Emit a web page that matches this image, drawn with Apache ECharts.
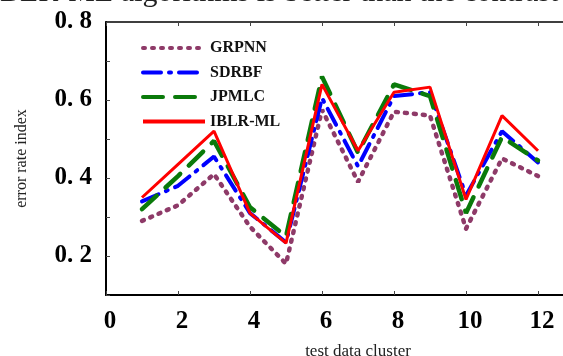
<!DOCTYPE html>
<html>
<head>
<meta charset="utf-8">
<script src="https://cdn.jsdelivr.net/npm/echarts@6/dist/echarts.min.js"></script>
<style>
  html, body { margin: 0; padding: 0; background: #fff; }
  #chart { width: 563px; height: 356px; }
</style>
</head>
<body>
<div id="chart"></div>
<script>
// test data clusters 1..12
const clusters = [1, 2, 3, 4, 5, 6, 7, 8, 9, 10, 11, 12];
const grpnn = [0.29, 0.33, 0.41, 0.275, 0.18, 0.575, 0.39, 0.57, 0.56, 0.27, 0.45, 0.405];
const sdrbf = [0.34, 0.38, 0.455, 0.31, 0.235, 0.605, 0.43, 0.61, 0.62, 0.355, 0.52, 0.44];
const jpmlc = [0.32, 0.405, 0.495, 0.325, 0.25, 0.66, 0.465, 0.64, 0.61, 0.31, 0.505, 0.445];
const iblrml = [0.35, 0.435, 0.52, 0.31, 0.233, 0.64, 0.47, 0.62, 0.633, 0.345, 0.56, 0.47];
const seriesNames = ["GRPNN", "SDRBF", "JPMLC", "IBLR-ML"];

const serif = '"Liberation Serif", "DejaVu Serif", serif';

function pairs(values) {
  return clusters.map((c, i) => [c, values[i]]);
}

function lineSeries(name, values, color, width, type) {
  return {
    type: "line",
    name: name,
    data: pairs(values),
    symbol: "none",
    color: color,
    lineStyle: { color: color, width: width, type: type, cap: type === "solid" ? "butt" : "round" },
    z: 3,
  };
}

const chart = echarts.init(document.getElementById("chart"), null, { renderer: "canvas" });

chart.setOption({
  animation: false,
  graphic: [
    {
      type: "text",
      x: 0,
      y: 8,
      style: {
        text: "BLR-ML algorithms is better than the contrast",
        font: "30px " + serif,
        fill: "#222",
        verticalAlign: "bottom",
      },
    },
  ],
  grid: { left: 106, right: -47, top: 22, bottom: 61, outerBoundsMode: "none" },
  legend: {
    orient: "vertical",
    left: 136,
    top: 35,
    itemWidth: 62,
    itemHeight: 16,
    itemGap: 8.5,
    data: seriesNames,
    itemStyle: { opacity: 0 },
    lineStyle: { width: 4 },
    textStyle: {
      fontFamily: serif,
      fontWeight: "bold",
      fontSize: 16,
      color: "#111",
    },
  },
  xAxis: [
    {
      type: "value",
      min: 0,
      max: 14,
      interval: 2,
      name: "test data cluster",
      nameLocation: "middle",
      nameGap: 48,
      nameTextStyle: { fontFamily: serif, fontSize: 17, color: "#222" },
      axisLine: { lineStyle: { color: "#000", width: 2 } },
      axisTick: { inside: true, length: 4, lineStyle: { color: "#444" } },
      axisLabel: {
        fontFamily: serif,
        fontWeight: "bold",
        fontSize: 25,
        color: "#000",
        margin: 14,
        padding: [0, 0, 0, 8],
      },
      splitLine: { show: false },
    },
    {
      type: "value",
      position: "top",
      min: 0,
      max: 14,
      interval: 2,
      axisLine: { show: true, lineStyle: { color: "#000", width: 1.5 } },
      axisTick: { show: true, inside: true, length: 4, lineStyle: { color: "#444" } },
      axisLabel: { show: false },
      splitLine: { show: false },
    },
  ],
  yAxis: {
    type: "value",
    min: 0.1,
    max: 0.8,
    interval: 0.1,
    name: "error rate index",
    nameLocation: "middle",
    nameGap: 76,
    nameTextStyle: { fontFamily: serif, fontSize: 16, color: "#222" },
    axisLine: { show: true, lineStyle: { color: "#000", width: 2 } },
    axisTick: { inside: true, length: 4, lineStyle: { color: "#444" } },
    axisLabel: {
      fontFamily: serif,
      fontWeight: "bold",
      fontSize: 25,
      color: "#000",
      margin: 14,
      formatter: (v) => {
        const k = Math.round(v * 10);
        return k % 2 === 0 ? "0. " + k : "";
      },
    },
    splitLine: { show: false },
  },
  series: [
    lineSeries("GRPNN", grpnn, "#8e3a68", 4.5, [2, 7]),
    lineSeries("SDRBF", sdrbf, "#0000ff", 4, [18, 8, 2, 8]),
    lineSeries("JPMLC", jpmlc, "#0a7a0a", 4.5, [20, 12]),
    lineSeries("IBLR-ML", iblrml, "#ff0000", 3, "solid"),
  ],
});
</script>
</body>
</html>
